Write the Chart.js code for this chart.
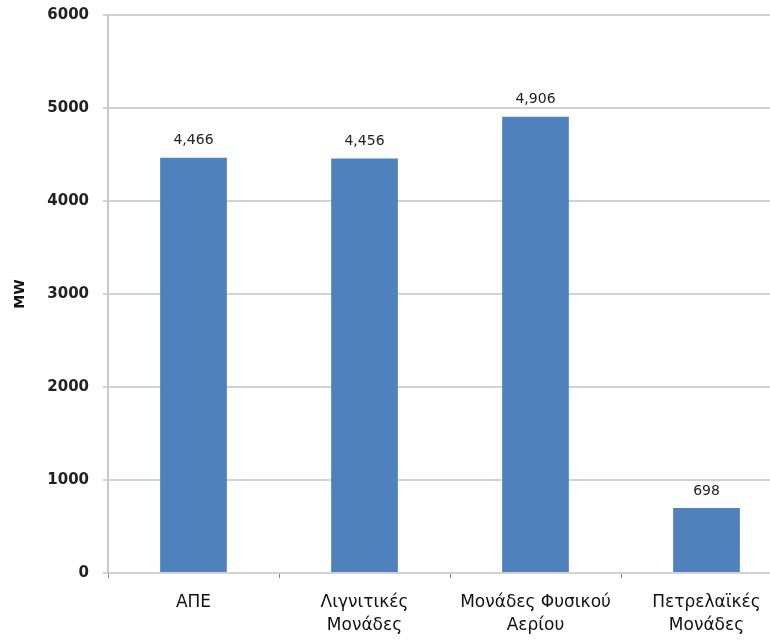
<!DOCTYPE html>
<html>
<head>
<meta charset="utf-8">
<script src="https://cdn.jsdelivr.net/npm/chart.js@4"></script>
<style>
    html, body { margin: 0; padding: 0; background: #fff; overflow: hidden; }
    #wrap { width: 800px; height: 640px; }
</style>
</head>
<body>
<div id="wrap"><canvas id="capacityChart" width="800" height="640"></canvas></div>
<script>
// Εγκατεστημένη ισχύς ανά τύπο μονάδας (MW)
const categories = [
    ['ΑΠΕ'],
    ['Λιγνιτικές', 'Μονάδες'],
    ['Μονάδες Φυσικού', 'Αερίου'],
    ['Πετρελαϊκές', 'Μονάδες']
];
const capacityMW = [4466, 4456, 4906, 698];
const yTicks = [0, 1000, 2000, 3000, 4000, 5000, 6000];

const axisGray = '#d2d2d2';

// draws the value above each bar, e.g. "4,466"
const barValueLabels = {
    id: 'barValueLabels',
    afterDatasetsDraw(chart) {
        const ctx = chart.ctx;
        const meta = chart.getDatasetMeta(0);
        ctx.save();
        ctx.font = '14px "DejaVu Sans"';
        ctx.fillStyle = '#222';
        ctx.textAlign = 'center';
        ctx.textBaseline = 'bottom';
        meta.data.forEach((bar, i) => {
            const value = chart.data.datasets[0].data[i];
            ctx.fillText(value.toLocaleString('en-US'), bar.x, bar.y - 10);
        });
        ctx.restore();
    }
};

const ctx = document.getElementById('capacityChart').getContext('2d');
new Chart(ctx, {
    type: 'bar',
    data: {
        labels: categories,
        datasets: [{
            data: capacityMW,
            backgroundColor: '#4f81bd',
            borderWidth: 0,
            categoryPercentage: 1,
            barPercentage: 0.39
        }]
    },
    options: {
        responsive: false,
        animation: false,
        layout: { padding: { top: 15, right: 8, left: 0, bottom: 0 } },
        plugins: {
            legend: { display: false },
            tooltip: { enabled: false }
        },
        scales: {
            x: {
                grid: {
                    display: true,
                    offset: true,
                    drawOnChartArea: false,
                    tickLength: 5,
                    color: '#888',
                    lineWidth: 1
                },
                border: { color: axisGray, width: 2 },
                ticks: {
                    color: '#111',
                    font: { family: 'DejaVu Sans', size: 17, lineHeight: 1.35 },
                    padding: 13,
                    maxRotation: 0,
                    autoSkip: false
                },
                afterFit(scale) { scale.height = 67; }
            },
            y: {
                min: 0,
                max: 6000,
                afterBuildTicks(scale) {
                    scale.ticks = yTicks.map(v => ({ value: v }));
                },
                grid: {
                    color: axisGray,
                    lineWidth: 2,
                    tickLength: 5
                },
                border: { color: '#c8c8c8', width: 2 },
                ticks: {
                    color: '#222',
                    font: { family: 'DejaVu Sans', size: 15, weight: 'bold' },
                    padding: 14,
                    callback: v => String(v)
                },
                title: {
                    display: true,
                    text: 'MW',
                    color: '#111',
                    font: { family: 'DejaVu Sans', size: 14, weight: 'bold' },
                    padding: { top: 12, bottom: 4 }
                },
                afterFit(scale) {
                    scale.width = 108;
                    scale.paddingTop = 0;
                    scale.paddingBottom = 0;
                }
            }
        }
    },
    plugins: [barValueLabels]
});
</script>
</body>
</html>
